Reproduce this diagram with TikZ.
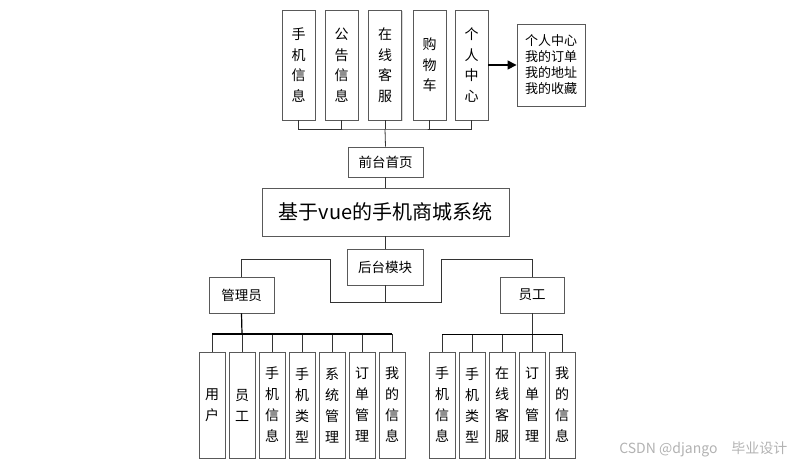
\documentclass[tikz,border=0pt]{standalone}
\usepackage{fontspec}
\setmainfont{Noto Sans CJK SC}
\usetikzlibrary{arrows.meta,shadows}
\begin{document}
\begin{tikzpicture}[x=1pt,y=-1pt,
  box/.style={draw=black!65, line width=0.9pt, fill=white, inner sep=0pt, align=center,
    drop shadow={shadow xshift=1pt, shadow yshift=-1pt, fill=black!25, opacity=0.6}},
  topv/.style={box, minimum width=33pt, minimum height=110pt, font=\fontsize{14}{20.5}\selectfont},
  botv/.style={box, minimum width=26pt, minimum height=106pt, font=\fontsize{14}{21}\selectfont},
  hbox/.style={box, font=\fontsize{13.5}{16}\selectfont},
  conn/.style={draw=black!80, line width=0.8pt},
  bus/.style={draw=black, line width=1.2pt}]
\useasboundingbox (0,0) rectangle (802,464);
% top row
\node[topv] (t1) at (298.5,65) {手\\机\\信\\息};
\node[topv] (t2) at (341.5,65) {公\\告\\信\\息};
\node[topv] (t3) at (385,65) {在\\线\\客\\服};
\node[topv] (t4) at (429.5,65) {购\\物\\车};
\node[topv] (t5) at (471.5,65) {个\\人\\中\\心};
\node[box, minimum width=68pt, minimum height=82pt, font=\fontsize{13}{16}\selectfont] (pc) at (551,65) {个人中心\\我的订单\\我的地址\\我的收藏};
\draw[line width=1.5pt, -{Triangle[length=9pt,width=9pt]}] (t5.east) -- (pc.west);
% front page
\node[hbox, minimum width=75pt, minimum height=30pt] (qt) at (385.5,162) {前台首页};
\coordinate (tb) at (385,129);
\draw[conn] (t1.south) |- (tb) -| (t5.south);
\foreach \n in {t2,t3,t4} \draw[conn] (\n.south) -- (\n.south |- tb);
\draw[conn] (tb) -- (qt.north);
% main
\node[box, minimum width=247pt, minimum height=48pt, font=\fontsize{20}{24}\selectfont] (main) at (385.5,212) {基于vue的手机商城系统};
\draw[conn] (qt.south) -- (main.north);
% back end
\node[hbox, minimum width=76pt, minimum height=36pt] (ht) at (385,267) {后台模块};
\draw[conn] (main.south) -- (ht.south |- main.south) -- (ht.north);
\node[hbox, minimum width=65pt, minimum height=36pt] (gly) at (241.5,295) {管理员};
\node[hbox, minimum width=64pt, minimum height=36pt] (yg) at (532,295) {员工};
\coordinate (L1) at (330,259);
\coordinate (R1) at (441,259);
\coordinate (hbL) at (330,302);
\coordinate (hbR) at (441,302);
\draw[conn] (gly.north) |- (L1) -- (hbL) -- (hbR) -- (R1) -| (yg.north);
\draw[conn] (ht.south) -- (ht.south |- hbL);
% admin children
\node[botv] (a1) at (212,405) {用\\户};
\node[botv] (a2) at (242,405) {员\\工};
\node[botv] (a3) at (272,405) {手\\机\\信\\息};
\node[botv] (a4) at (302,405) {手\\机\\类\\型};
\node[botv] (a5) at (332,405) {系\\统\\管\\理};
\node[botv] (a6) at (362,405) {订\\单\\管\\理};
\node[botv] (a7) at (392,405) {我\\的\\信\\息};
\coordinate (ab) at (242,334);
\foreach \n in {a1,a2,a3,a4,a5,a6,a7} \draw[conn] (\n.north) -- (\n.north |- ab);
\draw[bus] (a1.north |- ab) -- (a7.north |- ab);
\draw[bus] (gly.south) -- (ab);
% staff children
\node[botv] (b1) at (442,405) {手\\机\\信\\息};
\node[botv] (b2) at (472,405) {手\\机\\类\\型};
\node[botv] (b3) at (502,405) {在\\线\\客\\服};
\node[botv] (b4) at (532,405) {订\\单\\管\\理};
\node[botv] (b5) at (562,405) {我\\的\\信\\息};
\coordinate (bb) at (532,334);
\foreach \n in {b1,b2,b3,b4,b5} \draw[conn] (\n.north) -- (\n.north |- bb);
\draw[conn, draw=black, line width=1pt] (b1.north |- bb) -- (b5.north |- bb);
\draw[conn] (yg.south) -- (bb);
% watermark
\node[text=black!30, font=\fontsize{14}{16}\selectfont, anchor=east] (wm) at (791,449) {CSDN @django\quad 毕业设计};
\end{tikzpicture}
\end{document}
